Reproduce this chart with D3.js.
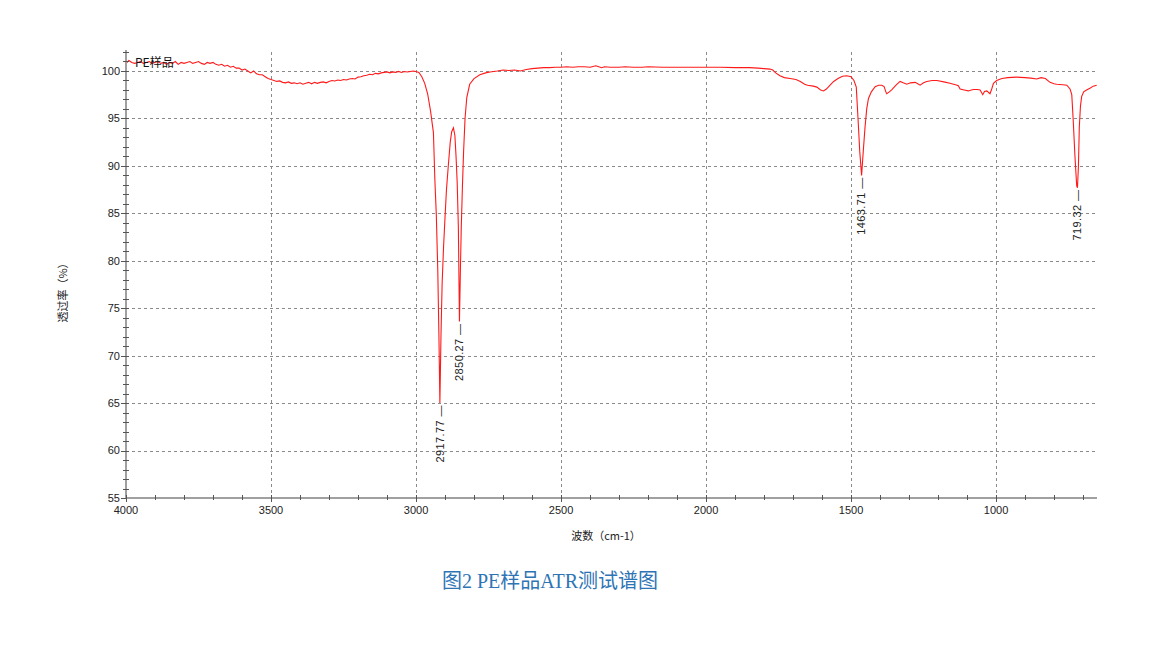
<!DOCTYPE html>
<html><head><meta charset="utf-8">
<script src="https://cdn.jsdelivr.net/npm/d3@7"></script>
<style>
html,body{margin:0;padding:0;background:#fff;}
svg{display:block;}
</style>
</head><body>
<svg id="chart" width="1156" height="660"></svg>
<script>
const wavenumbers = [4000,3990,3980,3970,3960,3950,3940,3930,3920,3910,3900,3890,3880,3870,3860,3850,3840,3830,3820,3810,3800,3790,3780,3770,3760,3750,3740,3730,3720,3710,3700,3690,3680,3670,3660,3650,3640,3630,3620,3610,3600,3590,3580,3570,3560,3550,3540,3530,3520,3510,3500,3490,3480,3470,3460,3450,3440,3430,3420,3410,3400,3390,3380,3370,3360,3350,3340,3330,3320,3310,3300,3290,3280,3270,3260,3250,3240,3230,3220,3210,3200,3190,3180,3170,3160,3150,3140,3130,3120,3110,3100,3090,3080,3070,3060,3050,3040,3030,3020,3010,3000,2990,2980,2970,2960,2950,2940,2935,2930,2925,2921,2917.77,2914,2910,2905,2900,2895,2889,2882,2877,2871,2866,2862,2858,2854,2850.27,2847,2844,2840,2836,2831,2825,2815,2800,2780,2760,2745,2720,2700,2680,2660,2640,2620,2600,2580,2560,2540,2520,2500,2480,2460,2440,2420,2400,2380,2370,2360,2350,2330,2300,2280,2250,2220,2200,2150,2100,2050,2000,1950,1900,1850,1820,1800,1780,1770,1760,1745,1730,1710,1690,1675,1660,1650,1630,1618,1605,1595,1585,1570,1560,1545,1530,1515,1500,1490,1482,1476,1470,1463.71,1458,1452,1446,1440,1430,1417,1405,1394,1386,1380,1377,1368,1360,1345,1331,1320,1308,1295,1279,1270,1262,1250,1239,1220,1204,1180,1159,1140,1130,1124,1110,1096,1085,1078,1065,1055,1046,1040,1032,1021,1015,1009,998,980,960,930,900,880,860,845,830,814,800,791,770,756,745,739,734,728,722,719.32,716,713,709,705,698,688,675,665,653];
const transmittance = [100.8,101.1,100.9,100.8,100.9,101.0,100.8,100.9,101.0,100.8,100.9,101.0,100.8,100.9,100.7,100.9,100.8,101.0,100.7,100.9,100.8,100.9,101.0,100.8,100.9,101.0,100.8,100.7,100.9,100.8,100.9,100.7,100.6,100.7,100.5,100.6,100.4,100.5,100.3,100.3,100.1,100.2,100.0,99.8,100.0,99.7,99.6,99.6,99.4,99.2,99.1,99.0,98.9,98.95,98.8,98.75,98.85,98.7,98.75,98.65,98.75,98.6,98.7,98.8,98.65,98.8,98.7,98.8,98.85,98.75,98.9,99.0,98.95,99.05,99.0,99.1,99.05,99.15,99.2,99.15,99.35,99.4,99.5,99.55,99.65,99.6,99.75,99.7,99.8,99.85,99.9,99.8,99.9,99.85,99.95,99.85,99.95,99.9,99.95,100.0,99.95,99.85,99.4,98.7,97.6,95.8,93.5,88.5,84.8,79,72,65.0,72,77.6,81.5,84.6,87.5,89.9,92.5,93.6,94.0,93.2,91,88.2,83.5,73.6,79,83.5,87.8,91.5,95.0,97.2,98.6,99.2,99.6,99.8,99.9,100.0,100.1,100.05,100.1,100.0,100.15,100.25,100.3,100.35,100.35,100.4,100.4,100.45,100.4,100.45,100.45,100.4,100.55,100.45,100.35,100.45,100.4,100.4,100.45,100.4,100.4,100.45,100.4,100.4,100.4,100.4,100.4,100.35,100.35,100.3,100.25,100.2,100.1,99.8,99.5,99.3,99.2,99.1,98.9,98.6,98.5,98.4,98.3,98.0,97.9,98.1,98.6,98.9,99.2,99.45,99.5,99.4,99.0,98.3,95.0,91.5,89.0,91.5,94.0,96.0,97.1,97.8,98.35,98.5,98.5,98.35,97.8,97.6,97.8,98.0,98.5,98.9,98.75,98.6,98.75,98.8,98.65,98.5,98.75,98.9,99.0,99.0,98.85,98.7,98.55,98.45,98.1,98.0,97.9,98.0,98.05,98.05,98.0,97.5,97.85,97.9,97.6,98.1,98.7,99.0,99.2,99.3,99.35,99.3,99.25,99.15,99.3,99.2,98.8,98.65,98.6,98.55,98.5,98.1,97.5,94.8,91,87.9,87.7,90,94.1,96.3,97.3,97.8,98.0,98.2,98.4,98.5];

const peakWavenumbers = [2917.77, 2850.27, 1463.71, 719.32];
const peakValues = [65.0, 73.6, 89.0, 87.7];
const peakLabels = ["2917.77", "2850.27", "1463.71", "719.32"];

const xTicks = [4000, 3500, 3000, 2500, 2000, 1500, 1000];
const yTicks = [55, 60, 65, 70, 75, 80, 85, 90, 95, 100];
const xMinorTicks = d3.range(4000, 649, -100);
const yMinorTicks = d3.range(55, 103, 1);

const seriesName = "PE样品";
const xTitle = "波数（cm-1）";
const yTitle = "透过率（%）";
const caption = "图2 PE样品ATR测试谱图";

(function draw() {
  const svg = d3.select("#chart");
  const mLeft = 126, mRight = 1097, mTop = 52, mBottom = 498;
  const x = d3.scaleLinear().domain([4000, 652]).range([mLeft, mRight]);
  const y = d3.scaleLinear().domain([55, 102]).range([mBottom, mTop]);

  const sansFont = "'Liberation Sans', Arial, sans-serif";
  const cjkFont = "'Noto Sans CJK SC', sans-serif";

  // grid
  const grid = svg.append("g").attr("stroke", "#8a8a8a").attr("stroke-width", 1).attr("stroke-dasharray", "3,3");
  grid.selectAll("line.v").data(xTicks.filter(d => d !== 4000)).join("line")
    .attr("x1", d => Math.round(x(d)) + 0.5).attr("x2", d => Math.round(x(d)) + 0.5)
    .attr("y1", mTop).attr("y2", mBottom);
  grid.selectAll("line.h").data(yTicks.filter(d => d !== 55)).join("line")
    .attr("x1", mLeft).attr("x2", mRight)
    .attr("y1", d => Math.round(y(d)) + 0.5).attr("y2", d => Math.round(y(d)) + 0.5);

  // curve
  const n = Math.min(wavenumbers.length, transmittance.length);
  const pts = d3.range(n).map(i => [wavenumbers[i], transmittance[i]]);
  svg.append("path").datum(pts)
    .attr("fill", "none").attr("stroke", "#ff1a1a").attr("stroke-width", 1.1)
    .attr("d", d3.line().x(d => x(d[0])).y(d => y(d[1])));

  // axes
  const axisColor = "#a0a0a0";
  const yAxis = svg.append("g");
  yAxis.append("line").attr("x1", mLeft).attr("x2", mLeft).attr("y1", mTop - 2).attr("y2", mBottom)
    .attr("stroke", axisColor).attr("stroke-width", 2);
  yAxis.selectAll("line.minor").data(yMinorTicks).join("line").attr("class", "minor")
    .attr("x1", mLeft - 3).attr("x2", mLeft + 3)
    .attr("y1", d => Math.round(y(d)) + 0.5).attr("y2", d => Math.round(y(d)) + 0.5)
    .attr("stroke", "#555").attr("stroke-width", 1);
  yAxis.selectAll("line.major").data(yTicks).join("line").attr("class", "major")
    .attr("x1", mLeft - 5).attr("x2", mLeft + 3)
    .attr("y1", d => Math.round(y(d)) + 0.5).attr("y2", d => Math.round(y(d)) + 0.5)
    .attr("stroke", "#555").attr("stroke-width", 1);
  yAxis.selectAll("text").data(yTicks).join("text")
    .attr("x", mLeft - 6).attr("y", d => y(d)).attr("dy", "0.35em")
    .attr("text-anchor", "end").attr("font-family", sansFont).attr("font-size", 11).attr("fill", "#222")
    .text(d => d);

  const xAxis = svg.append("g");
  xAxis.append("line").attr("x1", mLeft).attr("x2", mRight).attr("y1", mBottom).attr("y2", mBottom)
    .attr("stroke", axisColor).attr("stroke-width", 2);
  xAxis.selectAll("line.minor").data(xMinorTicks).join("line").attr("class", "minor")
    .attr("x1", d => Math.round(x(d)) + 0.5).attr("x2", d => Math.round(x(d)) + 0.5)
    .attr("y1", mBottom - 3).attr("y2", mBottom + 2)
    .attr("stroke", "#555").attr("stroke-width", 1);
  xAxis.selectAll("line.major").data(xTicks).join("line").attr("class", "major")
    .attr("x1", d => Math.round(x(d)) + 0.5).attr("x2", d => Math.round(x(d)) + 0.5)
    .attr("y1", mBottom - 3).attr("y2", mBottom + 4)
    .attr("stroke", "#555").attr("stroke-width", 1);
  xAxis.selectAll("text").data(xTicks).join("text")
    .attr("x", d => x(d)).attr("y", mBottom + 16)
    .attr("text-anchor", "middle").attr("font-family", sansFont).attr("font-size", 11).attr("fill", "#222")
    .text(d => d);

  // axis titles
  svg.append("text").attr("x", 606).attr("y", 540).attr("text-anchor", "middle")
    .attr("font-family", cjkFont).attr("font-size", 11).attr("fill", "#222").text(xTitle);
  svg.append("text").attr("transform", "translate(67,290) rotate(-90)").attr("text-anchor", "middle")
    .attr("font-family", cjkFont).attr("font-size", 11).attr("fill", "#222").text(yTitle);

  // series name
  svg.append("text").attr("x", 135).attr("y", 67)
    .attr("font-family", cjkFont).attr("font-size", 12).attr("fill", "#111").text(seriesName);

  // peak labels
  svg.selectAll("text.peak").data(peakWavenumbers).join("text")
    .attr("class", "peak")
    .attr("transform", (d, i) => `translate(${x(d)},${y(peakValues[i]) + 2}) rotate(-90)`)
    .attr("dy", "0.35em").attr("text-anchor", "end")
    .attr("font-family", sansFont).attr("font-size", 11).attr("fill", "#222")
    .attr("letter-spacing", 0.4)
    .text((d, i) => peakLabels[i] + " —");

  // caption
  svg.append("text").attr("x", 550).attr("y", 588).attr("text-anchor", "middle")
    .attr("font-family", "'Liberation Serif', 'Noto Sans CJK SC', serif").attr("font-size", 20).attr("fill", "#2e74b5")
    .style("white-space", "pre")
    .text(caption);

  if (wavenumbers.length !== transmittance.length) {
    throw new Error("length mismatch " + wavenumbers.length + " vs " + transmittance.length);
  }
})();
</script>
</body></html>
